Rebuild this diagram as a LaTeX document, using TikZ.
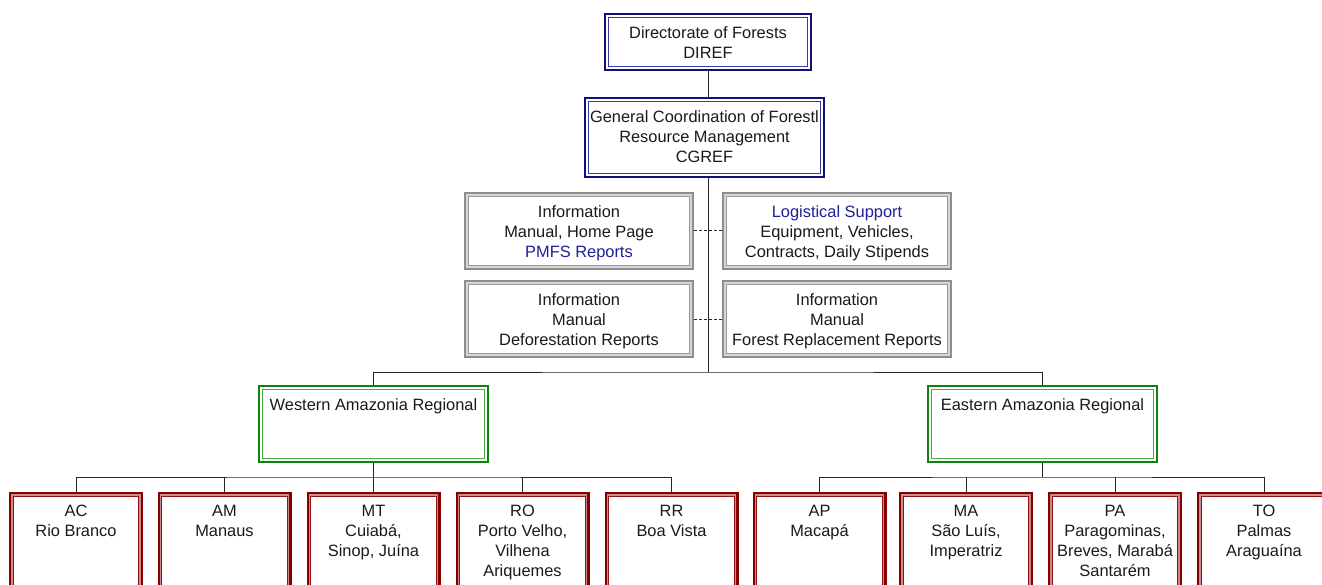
\documentclass[tikz,border=0pt]{standalone}
\usepackage{fontspec}
\setmainfont{Liberation Sans}
\definecolor{navyout}{HTML}{10107A}
\definecolor{navyin}{HTML}{3A3AA0}
\definecolor{grayout}{HTML}{8E8E8E}
\definecolor{grayband}{HTML}{D6D6D6}
\definecolor{grayin}{HTML}{9C9C9C}
\definecolor{greenout}{HTML}{0A840A}
\definecolor{greenin}{HTML}{48A848}
\definecolor{redout}{HTML}{860000}
\definecolor{redband}{HTML}{C88A8A}
\definecolor{redin}{HTML}{8E1010}
\definecolor{tblue}{HTML}{1F1F99}
\definecolor{txtcol}{HTML}{1A1A1A}
\definecolor{linecol}{HTML}{262626}

% a framed unit: thick outer line, a light band, a thin inner line
\tikzset{
  unitbox/.style n args={3}{draw=#1, line width=2.2pt, fill=white, inner sep=0pt,
    path picture={
      \draw[#2, line width=1.6pt]
        ([shift={(1.8pt,-1.8pt)}]path picture bounding box.north west) rectangle
        ([shift={(-1.8pt,1.8pt)}]path picture bounding box.south east);
      \draw[#3, line width=0.9pt]
        ([shift={(3.1pt,-3.1pt)}]path picture bounding box.north west) rectangle
        ([shift={(-3.1pt,3.1pt)}]path picture bounding box.south east);
    }},
  headbox/.style={unitbox={navyout}{white}{navyin}},
  infobox/.style={unitbox={grayout}{grayband}{grayin}},
  regionbox/.style={unitbox={greenout}{white}{greenin}},
  statebox/.style={unitbox={redout}{redband}{redin}},
  unittext/.style={align=center, inner sep=0pt, text=txtcol,
    font=\fontsize{16.4pt}{20pt}\selectfont},
  conn/.style={draw=linecol, line width=1pt},
  dashconn/.style={draw=linecol, line width=1pt, dash pattern=on 3pt off 2pt},
}

% #1 name, #2 centre, #3 width, #4 height, #5 style, #6 text
\newcommand\orgunit[6]{%
  \node[#5, minimum width=#3pt-2.2pt, minimum height=#4pt-2.2pt] (#1) at #2 {};
  \node[unittext, anchor=north] (#1-t) at ([yshift=-13pt]#1.north) {#6};
}

\begin{document}
\begin{tikzpicture}[x=1pt,y=-1pt]
\useasboundingbox (0,0) rectangle (1322,585);
\clip (0,0) rectangle (1322,585);

% head office
\orgunit{diref}{(708,42)}{208}{58}{headbox}{Directorate of Forests\\DIREF}
\orgunit{cgref}{(704.5,137.5)}{241}{81}{headbox}{General Coordination of Forestl\\Resource Management\\CGREF}

% support units
\orgunit{infa}{(579,231)}{230}{78}{infobox}{Information\\Manual, Home Page\\\textcolor{tblue}{PMFS Reports}}
\orgunit{logi}{(837,231)}{230}{78}{infobox}{\textcolor{tblue}{Logistical Support}\\Equipment, Vehicles,\\Contracts, Daily Stipends}
\orgunit{infb}{(579,319)}{230}{78}{infobox}{Information\\Manual\\Deforestation Reports}
\orgunit{infc}{(837,319)}{230}{78}{infobox}{Information\\Manual\\Forest Replacement Reports}

% regional offices
\orgunit{west}{(373.5,424)}{231}{78}{regionbox}{Western Amazonia Regional}
\orgunit{east}{(1042.5,424)}{231}{78}{regionbox}{Eastern Amazonia Regional}

% state offices
\orgunit{ac}{(76,552)}{134}{120}{statebox}{AC\\Rio Branco}
\orgunit{am}{(224.5,552)}{134}{120}{statebox}{AM\\Manaus}
\orgunit{mt}{(373.5,552)}{134}{120}{statebox}{MT\\Cuiabá,\\Sinop, Juína}
\orgunit{ro}{(522.5,552)}{134}{120}{statebox}{RO\\Porto Velho,\\Vilhena\\Ariquemes}
\orgunit{rr}{(671.5,552)}{134}{120}{statebox}{RR\\Boa Vista}
\orgunit{ap}{(819.5,552)}{134}{120}{statebox}{AP\\Macapá}
\orgunit{ma}{(966,552)}{134}{120}{statebox}{MA\\São Luís,\\Imperatriz}
\orgunit{pa}{(1115,552)}{134}{120}{statebox}{PA\\Paragominas,\\Breves, Marabá\\Santarém}
\orgunit{to}{(1264,552)}{134}{120}{statebox}{TO\\Palmas\\Araguaína}

% connectors
\coordinate (hub) at (708,372);
\coordinate (wbus) at (373.5,477);
\coordinate (ebus) at (1042.5,477);

\draw[conn] (diref.south) -- (diref.south |- cgref.north);
\draw[conn] (cgref.south -| hub) -- (hub);
\draw[conn] (west.north) |- (hub) -| (east.north);

\draw[dashconn] (infa.east) -- (logi.west);
\draw[dashconn] (infb.east) -- (infc.west);

\draw[conn] (west.south) -- (wbus);
\draw[conn] (ac.north) |- (wbus) -| (rr.north);
\draw[conn] (am.north) -- (am.north |- wbus);
\draw[conn] (mt.north) -- (mt.north |- wbus);
\draw[conn] (ro.north) -- (ro.north |- wbus);

\draw[conn] (east.south) -- (ebus);
\draw[conn] (ap.north) |- (ebus) -| (to.north);
\draw[conn] (ma.north) -- (ma.north |- ebus);
\draw[conn] (pa.north) -- (pa.north |- ebus);
\end{tikzpicture}
\end{document}
